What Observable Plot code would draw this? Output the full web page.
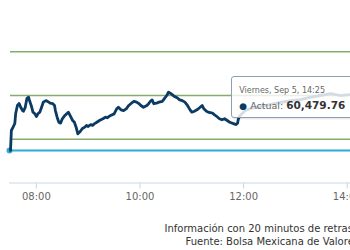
<!DOCTYPE html>
<html>
<head>
<meta charset="utf-8">
<script src="https://cdn.jsdelivr.net/npm/d3@7"></script>
<script src="https://cdn.jsdelivr.net/npm/@observablehq/plot@0.6"></script>
<style>
  html, body { margin: 0; padding: 0; background: #fff; overflow: hidden; width: 350px; height: 250px; }
  #wrap { position: relative; width: 400px; font-family: "DejaVu Sans", sans-serif; }
  #caption { width: 359px; text-align: right; font-size: 10px; line-height: 13px; color: #333; margin-top: 12px; }
  #tip { position: absolute; top: 76px; width: 130px; height: 42px; box-sizing: border-box;
         background: rgba(255,255,255,0.82); border: 1px solid #8f9fb3; border-radius: 3px;
         box-shadow: 1px 1px 2px rgba(0,0,0,0.12); padding: 8px 0 0 7px; white-space: nowrap; }
  #tip .date { font-size: 8px; color: #666; line-height: 11px; }
  #tip .row { font-size: 9.5px; color: #666; line-height: 16px; margin-top: 1px; }
  #tip .dot { color: #0b3a63; font-size: 9px; }
  #tip b { color: #333; font-size: 10.5px; }
</style>
</head>
<body>
<div id="wrap"></div>
<script>
const times = ["07:30","07:31","07:33","07:35","07:36","07:38","07:40","07:42","07:44","07:45","07:47","07:49","07:51","07:52","07:54","07:56","07:58","08:00","08:02","08:04","08:06","08:08","08:11","08:13","08:16","08:19","08:21","08:22","08:24","08:26","08:28","08:30","08:33","08:35","08:37","08:40","08:42","08:44","08:46","08:48","08:51","08:53","08:56","08:58","09:00","09:03","09:05","09:07","09:10","09:13","09:17","09:20","09:22","09:26","09:30","09:33","09:35","09:38","09:41","09:44","09:47","09:50","09:53","09:56","09:59","10:01","10:04","10:08","10:10","10:12","10:14","10:16","10:19","10:22","10:26","10:28","10:31","10:33","10:35","10:37","10:40","10:43","10:46","10:49","10:52","10:55","10:58","11:00","11:03","11:06","11:09","11:12","11:14","11:17","11:20","11:24","11:26","11:29","11:32","11:35","11:38","11:41","11:44","11:49","11:51","11:53","11:54","11:56","12:02","12:08","12:20","12:31","12:43","12:54","13:06","13:17","13:29","13:41","13:52","14:04","14:15","14:25"];
const values = [60186,60300,60319,60340,60397,60443,60454,60431,60414,60410,60431,60483,60490,60471,60443,60405,60397,60380,60397,60405,60433,60462,60471,60466,60456,60453,60443,60414,60376,60347,60342,60367,60386,60395,60405,60376,60357,60347,60319,60281,60296,60310,60319,60329,60323,60334,60329,60338,60347,60357,60367,60376,60373,60386,60395,60424,60433,60418,60414,60424,60443,60456,60467,60462,60453,60443,60433,60443,60453,60467,60475,60453,60456,60462,60467,60481,60500,60519,60513,60506,60494,60487,60475,60471,60462,60443,60418,60405,60410,60418,60430,60443,60424,60410,60403,60399,60391,60380,60367,60361,60367,60357,60347,60338,60334,60342,60367,60386,60414,60426,60437,60449,60460,60471,60477,60489,60500,60511,60500,60505,60492,60479.76];
const previousClose = 60186;
const gridValues = [60250, 60500, 60750];
const tickTimes = ["08:00","10:00","12:00","14:00"];
const sessionStart = "07:30";
const sessionEnd = "15:00";
const tooltipDate = "Viernes, Sep 5, 14:25";
const tooltipLabel = "Actual";
const tooltipValue = "60,479.76";
const captionLines = ["Información con 20 minutos de retraso", "Fuente: Bolsa Mexicana de Valores"];

const toDate = s => { const [h, m] = s.split(":").map(Number); return new Date(Date.UTC(2025, 8, 5, h, m)); };
const data = times.map((t, i) => ({date: toDate(t), value: values[i]}));
const fmt = d3.utcFormat("%H:%M");
const x0 = toDate(sessionStart), x1 = toDate(sessionEnd);

const chart = Plot.plot({
  width: 400, height: 210,
  marginLeft: 10, marginRight: 1.5, marginTop: 7.5, marginBottom: 27.5,
  style: {fontFamily: "DejaVu Sans, sans-serif", background: "transparent", overflow: "visible"},
  x: {type: "utc", domain: [x0, x1]},
  y: {domain: [60000, 61000], axis: null},
  marks: [
    Plot.ruleY(gridValues, {x1: x0, x2: x1, stroke: "#86ad6c", strokeWidth: 1.5}),
    Plot.ruleY([60000], {x1: x0, x2: x1, stroke: "#ccd6eb", strokeWidth: 1, dx: -1}),
    Plot.axisX(tickTimes.map(toDate), {tickFormat: fmt, tickSize: 6, tickPadding: 4, stroke: "#ccd6eb", fill: "#666", fontSize: 10, anchor: "bottom"}),
    Plot.ruleY([previousClose], {x1: x0, x2: x1, stroke: "#2aabd8", strokeWidth: 2, dx: -1}),
    Plot.dot([{date: x0, value: previousClose}], {x: "date", y: "value", r: 3, fill: "#2aabd8", dx: -1}),
    Plot.line(data, {x: "date", y: "value", stroke: "#0b3a63", strokeWidth: 2.8, strokeLinejoin: "round", strokeLinecap: "round"})
  ]
});

const wrap = document.getElementById("wrap");
wrap.appendChild(chart);

const px = chart.scale("x").apply(toDate(times[times.length - 1]));
const tip = document.createElement("div");
tip.id = "tip";
tip.style.left = (px - 137) + "px";
tip.innerHTML = `<div class="date">${tooltipDate}</div><div class="row"><span class="dot">●</span> ${tooltipLabel}: <b>${tooltipValue}</b></div>`;
wrap.appendChild(tip);

const cap = document.createElement("div");
cap.id = "caption";
cap.innerHTML = captionLines.join("<br>");
wrap.appendChild(cap);
</script>
</body>
</html>
